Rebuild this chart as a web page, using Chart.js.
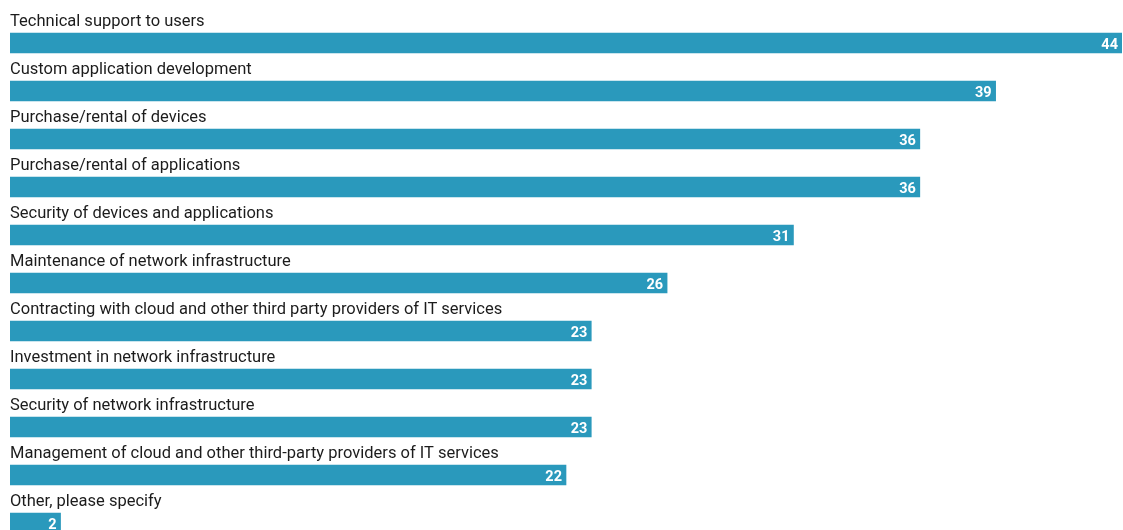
<!DOCTYPE html>
<html>
<head>
<meta charset="utf-8">
<script src="https://cdn.jsdelivr.net/npm/chart.js@4"></script>
<style>
  html, body { margin: 0; padding: 0; overflow: hidden; background: #ffffff; }
  #wrap { position: relative; width: 1123px; height: 547px; }
</style>
</head>
<body>
<div id="wrap"><canvas id="chart"></canvas></div>
<script>
// IT activities and the share of respondents selecting each one
const categories = [
  "Technical support to users",
  "Custom application development",
  "Purchase/rental of devices",
  "Purchase/rental of applications",
  "Security of devices and applications",
  "Maintenance of network infrastructure",
  "Contracting with cloud and other third party providers of IT services",
  "Investment in network infrastructure",
  "Security of network infrastructure",
  "Management of cloud and other third-party providers of IT services",
  "Other, please specify"
];
const shares = [44, 39, 36, 36, 31, 26, 23, 23, 23, 22, 2];

const BAR_COLOR = "#2a99bc";
const TEXT_COLOR = "#1c1c1c";

// Category name above each bar, value in white at the bar's right end
const barLabels = {
  id: "barLabels",
  afterDatasetsDraw(chart) {
    const ctx = chart.ctx;
    const meta = chart.getDatasetMeta(0);
    ctx.save();
    meta.data.forEach((bar, i) => {
      const top = bar.y - bar.height / 2;
      ctx.font = "16.5px Roboto";
      ctx.fillStyle = TEXT_COLOR;
      ctx.textAlign = "left";
      ctx.textBaseline = "alphabetic";
      ctx.fillText(chart.data.labels[i], chart.chartArea.left, top - 7);

      ctx.font = "bold 14.5px Roboto";
      ctx.fillStyle = "#ffffff";
      ctx.textAlign = "right";
      ctx.fillText(String(chart.data.datasets[0].data[i]), bar.x - 4, bar.y + 5.5);
    });
    ctx.restore();
  }
};

new Chart(document.getElementById("chart"), {
  type: "bar",
  data: {
    labels: categories,
    datasets: [{
      data: shares,
      backgroundColor: BAR_COLOR,
      borderWidth: 0,
      barThickness: 20
    }]
  },
  options: {
    indexAxis: "y",
    responsive: true,
    maintainAspectRatio: false,
    animation: false,
    layout: { padding: { top: 19, left: 10, right: 1, bottom: 0 } },
    scales: {
      x: { display: false, min: 0, max: 44 },
      y: { display: false, offset: true }
    },
    plugins: {
      legend: { display: false },
      tooltip: { enabled: false }
    }
  },
  plugins: [barLabels]
});
</script>
</body>
</html>
